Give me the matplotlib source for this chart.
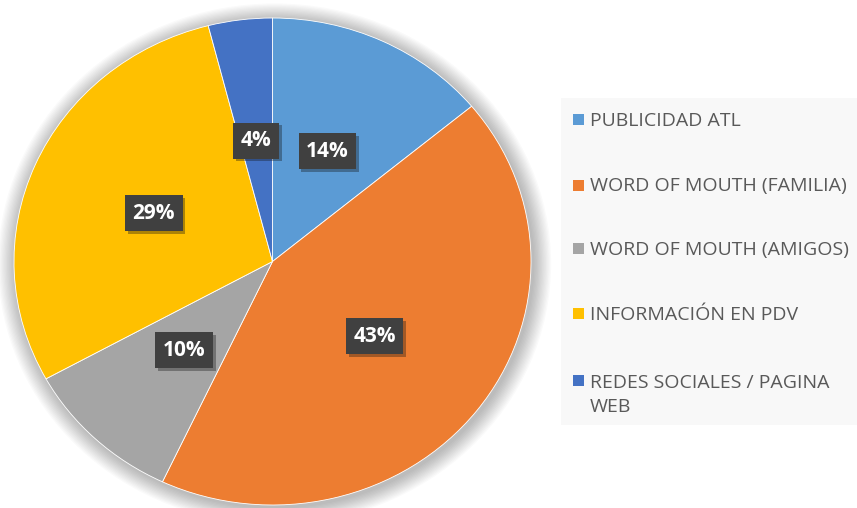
import matplotlib.pyplot as plt
import matplotlib.patheffects as pe
from matplotlib.patches import Ellipse, Rectangle

# Data
categories = ['PUBLICIDAD ATL', 'WORD OF MOUTH (FAMILIA)', 'WORD OF MOUTH (AMIGOS)',
              'INFORMACIÓN EN PDV', 'REDES SOCIALES / PAGINA\nWEB']
values = [14, 43, 10, 29, 4]
colors = ['#5B9BD5', '#ED7D31', '#A5A5A5', '#FFC000', '#4472C4']

plt.rcParams['font.family'] = ['Open Sans', 'DejaVu Sans']

W, H = 857, 508
fig = plt.figure(figsize=(W / 100, H / 100), dpi=100)

# pie ellipse bbox in pixels: x 14..531, y 18..505 (from top)
ax = fig.add_axes([14 / W, 3 / H, 517 / W, 487 / H])

# soft shadow around the pie
for i in range(14):
    s = 1.0 + 0.005 * (i + 1)
    ax.add_patch(Ellipse((0.008, -0.01), 2 * s, 2 * s, facecolor='black',
                         alpha=0.018, edgecolor='none', clip_on=False, zorder=0))

wedges, texts, autotexts = ax.pie(values, colors=colors, startangle=90, counterclock=False,
                                  autopct='%1.0f%%', pctdistance=0.5, radius=1.0,
                                  wedgeprops=dict(linewidth=0.6, edgecolor='white'))
ax.set_aspect('auto')
ax.set_xlim(-1, 1)
ax.set_ylim(-1, 1)
for w in wedges:
    w.set_zorder(2)

for t in autotexts:
    t.set_color('white')
    t.set_fontsize(15)
    t.set_fontweight('bold')
    t.set_zorder(5)
    t.set_bbox(dict(boxstyle='square,pad=0.36', facecolor='#404040', edgecolor='none'))
    t.get_bbox_patch().set_path_effects([pe.SimplePatchShadow(offset=(2, -2), alpha=0.35),
                                         pe.Normal()])

# legend box
fig.patches.append(Rectangle((561 / W, 1 - 425 / H), (W - 561) / W, (425 - 98) / H,
                             transform=fig.transFigure, facecolor='#F8F8F8',
                             edgecolor='none', zorder=0))
row_y = [119, 185, 248, 313, 380]
line_gap = 25
for lab, col, y in zip(categories, colors, row_y):
    fig.patches.append(Rectangle((573 / W, 1 - (y + 5.5) / H), 11 / W, 11 / H,
                                 transform=fig.transFigure, facecolor=col,
                                 edgecolor='none', zorder=1))
    extra = (lab.count('\n')) * line_gap
    fig.text(590 / W, 1 - (y + 6.5 + extra) / H, lab, ha='left', va='baseline',
             fontsize=14, color='#595959', linespacing=1.42)

fig.savefig('out.png', dpi=100)
